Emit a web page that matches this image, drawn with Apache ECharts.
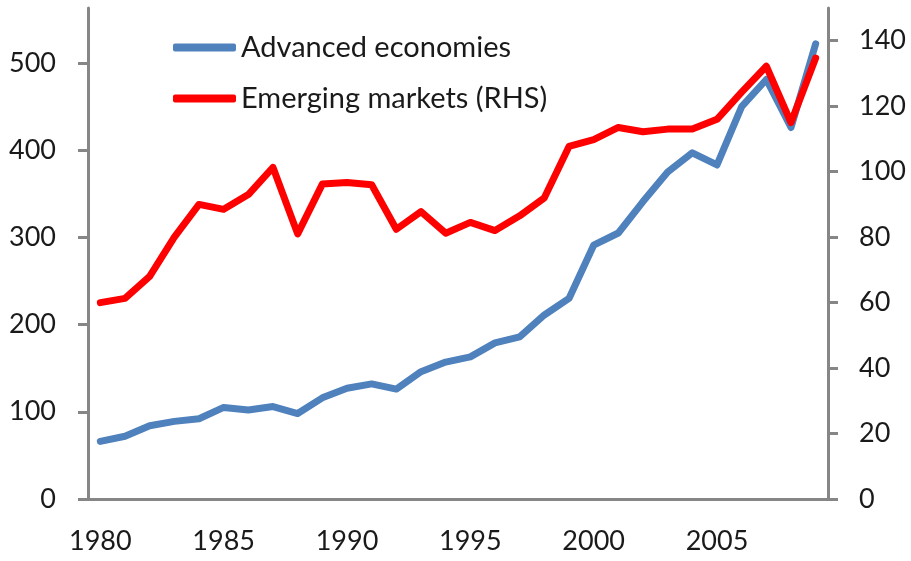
<!DOCTYPE html>
<html>
<head>
<meta charset="utf-8">
<script src="https://cdn.jsdelivr.net/npm/echarts@6/dist/echarts.min.js"></script>
<style>
  html, body { margin: 0; padding: 0; background: #fff; }
  #chart { width: 911px; height: 561px; }
</style>
</head>
<body>
<div id="chart"></div>
<script>
// years on the category axis
const years = [];
for (let y = 1980; y <= 2009; y++) years.push(String(y));

// Advanced economies (left axis)
const advanced = [66, 72, 84, 89, 92, 105, 102, 106, 98, 116,
  127, 132, 126, 146, 157, 163, 179, 186, 211, 230,
  291, 305, 341, 375, 397, 383, 450, 481, 426, 522];

// Emerging markets (RHS)
const emerging = [60, 61.3, 68, 80, 90, 88.5, 93, 101.3, 81, 96.2,
  96.7, 96, 82.4, 87.8, 81.2, 84.5, 82, 86.5, 92, 107.7,
  109.8, 113.5, 112.2, 113, 113, 116, 124.3, 132.2, 115, 134.7];

const axisGrey = "#868686";
const fontFam = "Lato, 'Open Sans', sans-serif";

const chart = echarts.init(document.getElementById("chart"));

chart.setOption({
  animation: false,
  grid: { left: 88, right: 83, top: 8, bottom: 62, containLabel: false },
  legend: {
    orient: "vertical",
    left: 168,
    top: 28,
    itemGap: 22,
    itemWidth: 63,
    itemHeight: 8,
    icon: "roundRect",
    data: ["Advanced economies", "Emerging markets (RHS)"],
    textStyle: { fontFamily: fontFam, fontSize: 29, color: "#1a1a1a" },
  },
  xAxis: {
    type: "category",
    data: years,
    boundaryGap: true,
    axisLine: { lineStyle: { color: axisGrey, width: 3 } },
    axisTick: { interval: 4, length: 10, lineStyle: { color: axisGrey, width: 3 } },
    axisLabel: {
      interval: 4,
      margin: 29,
      fontFamily: fontFam,
      fontSize: 27,
      color: "#1a1a1a",
    },
  },
  yAxis: [
    {
      type: "value",
      min: 0,
      max: 563,
      interval: 100,
      splitLine: { show: false },
      axisLine: { show: true, lineStyle: { color: axisGrey, width: 3 } },
      axisTick: { show: true, length: 10, lineStyle: { color: axisGrey, width: 3 } },
      axisLabel: {
        showMaxLabel: false,
        margin: 32,
        fontFamily: fontFam,
        fontSize: 27,
        color: "#1a1a1a",
      },
    },
    {
      type: "value",
      position: "right",
      min: 0,
      max: 150,
      interval: 20,
      splitLine: { show: false },
      axisLine: { show: true, lineStyle: { color: axisGrey, width: 3 } },
      axisTick: { show: true, length: 10, lineStyle: { color: axisGrey, width: 3 } },
      axisLabel: {
        showMaxLabel: false,
        margin: 31,
        fontFamily: fontFam,
        fontSize: 27,
        color: "#1a1a1a",
      },
    },
  ],
  series: [
    {
      name: "Advanced economies",
      type: "line",
      data: advanced,
      yAxisIndex: 0,
      showSymbol: false,
      color: "#4F81BD",
      lineStyle: { width: 7, color: "#4F81BD", cap: "round", join: "round" },
    },
    {
      name: "Emerging markets (RHS)",
      type: "line",
      data: emerging,
      yAxisIndex: 1,
      showSymbol: false,
      color: "#FF0000",
      lineStyle: { width: 7, color: "#FF0000", cap: "round", join: "round" },
    },
  ],
});
</script>
</body>
</html>
